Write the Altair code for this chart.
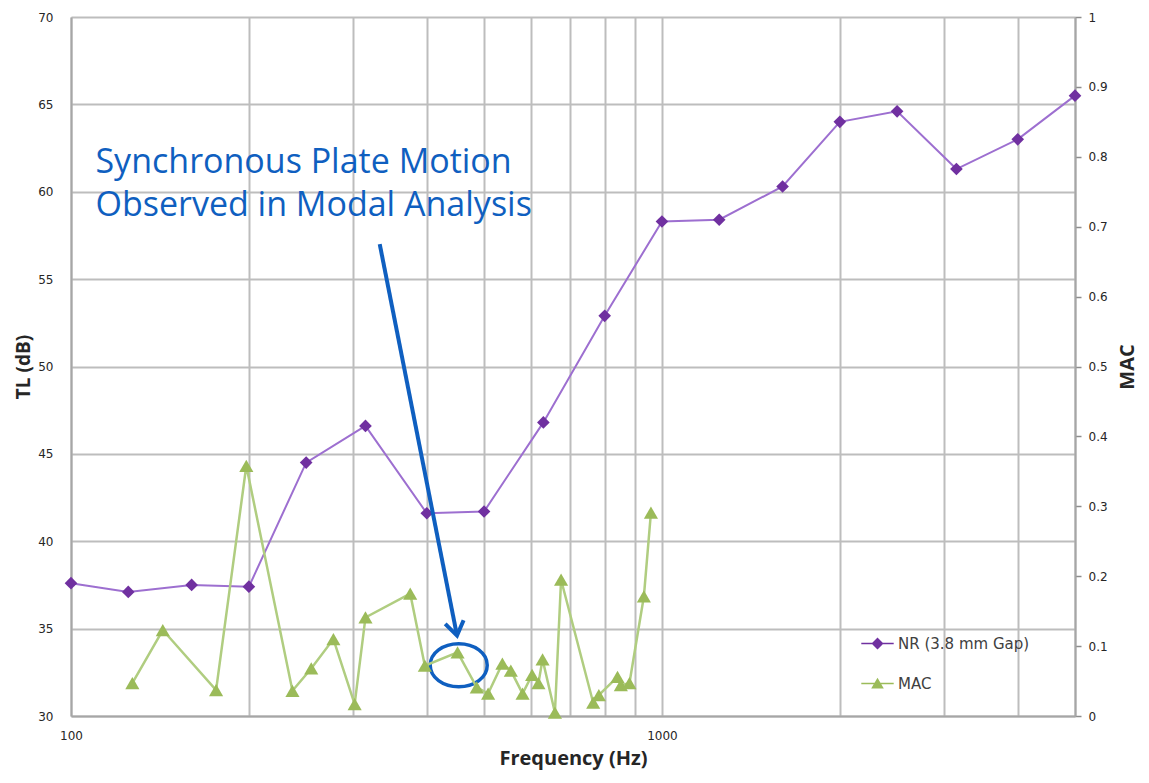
import altair as alt
import pandas as pd

# ---- data ----
nr_freq = [100, 125, 160, 200, 250, 315, 400, 500, 630, 800, 1000, 1250, 1600, 2000, 2500, 3150, 4000, 5000]
nr_tl = [37.6, 37.1, 37.5, 37.4, 44.5, 46.6, 41.6, 41.7, 46.8, 52.9, 58.3, 58.4, 60.3, 64.0, 64.6, 61.3, 63.0, 65.5]

mac_freq = [127, 143, 176, 198, 237, 255, 278, 302, 315, 375, 397, 451, 486, 508, 537, 555, 581, 603,
            618, 628, 659, 675, 765, 782, 841, 852, 881, 932, 958]
mac_val = [0.047, 0.123, 0.037, 0.358, 0.036, 0.068, 0.110, 0.017, 0.141, 0.175, 0.072, 0.091, 0.041,
           0.032, 0.075, 0.065, 0.032, 0.059, 0.047, 0.081, 0.005, 0.195, 0.019, 0.030, 0.056, 0.044,
           0.047, 0.171, 0.291]

series_names = ["NR (3.8 mm Gap)", "MAC"]
x_grid_values = [100, 200, 300, 400, 500, 600, 700, 800, 900, 1000, 2000, 3000, 4000, 5000]
tl_ticks = [30, 35, 40, 45, 50, 55, 60, 65, 70]
mac_ticks = [0, 0.1, 0.2, 0.3, 0.4, 0.5, 0.6, 0.7, 0.8, 0.9, 1]

annotation_text = "Synchronous Plate Motion\nObserved in Modal Analysis"
annotation_anchor = {"f": [110], "tl": [61.1]}
arrow_points = {"f": [333], "tl": [57.0], "f2": [450], "tl2": [34.6]}
circle_center = {"f": [453], "tl": [32.9]}

# ---- styles ----
PURPLE = "#7030A0"
PURPLE_LINE = "#9d6fd0"
GREEN = "#9BBB59"
GREEN_LINE = "#b0cd80"
BLUE = "#0f5fc0"
GRID = "#bdbdbd"
AXIS = "#a6a6a6"
TXT = "#262626"
TITLE_FONT = "Open Sans"
LABEL_FONT = "DejaVu Sans"

diamond_line_path = ("M -2.7,-0.13 L 2.7,-0.13 L 2.7,0.13 L -2.7,0.13 Z "
                     "M 0,-1 L 1,0 L 0,1 L -1,0 Z")
triangle_line_path = ("M -2.7,-0.13 L 2.7,-0.13 L 2.7,0.13 L -2.7,0.13 Z "
                      "M 0,-0.95 L 1.05,0.85 L -1.05,0.85 Z")
chevron_path = "M -0.75,-1.1 L 0,0 L 0.75,-1.1"
ellipse_path = ("M -1,0 C -1,-0.431 -0.552,-0.755 0,-0.755 C 0.552,-0.755 1,-0.431 1,0 "
                "C 1,0.431 0.552,0.755 0,0.755 C -0.552,0.755 -1,0.431 -1,0 Z")

x_enc = alt.X(
    "f:Q",
    scale=alt.Scale(type="log", domain=[100, 5000], nice=False),
    axis=alt.Axis(
        values=x_grid_values,
        labelExpr="(datum.value == 100 || datum.value == 1000) ? format(datum.value, 'd') : ''",
        grid=True, gridColor=GRID, gridWidth=2,
        domain=True, domainColor=AXIS, domainWidth=2,
        ticks=False, labelFlush=False, labelOverlap=False,
        labelFont=LABEL_FONT, labelFontSize=12, labelColor=TXT, labelPadding=14,
        title="Frequency (Hz)", titleFont=TITLE_FONT, titleFontSize=20, titleFontWeight="bold",
        titleColor=TXT, titleY=48, titleBaseline="alphabetic",
    ),
)

y_tl = alt.Y(
    "tl:Q",
    scale=alt.Scale(domain=[30, 70], nice=False, zero=False),
    axis=alt.Axis(
        values=tl_ticks, grid=True, gridColor=GRID, gridWidth=2,
        domain=True, domainColor=AXIS, domainWidth=2, ticks=False,
        labelFont=LABEL_FONT, labelFontSize=12, labelColor=TXT, labelPadding=18,
        title="TL (dB)", titleFont=TITLE_FONT, titleFontSize=19, titleFontWeight="bold",
        titleColor=TXT, titleX=-48, titleBaseline="middle",
    ),
)

y_mac = alt.Y(
    "mac:Q",
    scale=alt.Scale(domain=[0, 1], nice=False),
    axis=alt.Axis(
        orient="right", values=mac_ticks, grid=False, format="~g",
        domain=True, domainColor=AXIS, domainWidth=2,
        ticks=True, tickSize=6, tickColor="#8c8c8c", tickWidth=1.5,
        labelFont=LABEL_FONT, labelFontSize=12, labelColor=TXT, labelPadding=7,
        title="MAC", titleFont=TITLE_FONT, titleFontSize=20, titleFontWeight="bold",
        titleColor=TXT, titleAngle=270, titleX=52, titleBaseline="middle",
    ),
)

nr_df = pd.DataFrame({"f": nr_freq, "tl": nr_tl})
mac_df = pd.DataFrame({"f": mac_freq, "mac": mac_val})

nr_line = alt.Chart(nr_df).mark_line(color=PURPLE_LINE, strokeWidth=2).encode(x=x_enc, y=y_tl)
nr_pts = alt.Chart(nr_df).mark_point(shape="diamond", filled=True, size=160, color=PURPLE,
                                      opacity=1).encode(x=x_enc, y=y_tl)

text = alt.Chart(pd.DataFrame({**annotation_anchor, "label": [annotation_text]})).mark_text(
    align="left", baseline="alphabetic", font=TITLE_FONT, fontSize=34, color=BLUE,
    lineBreak="\n", lineHeight=43,
).encode(x=x_enc, y=y_tl, text="label:N")

arrow = alt.Chart(pd.DataFrame(arrow_points)).mark_rule(color=BLUE, strokeWidth=4).encode(
    x=x_enc, y=y_tl, x2="f2:Q", y2="tl2:Q")
arrow_head = alt.Chart(pd.DataFrame({"f": arrow_points["f2"], "tl": arrow_points["tl2"]})).mark_point(
    shape=chevron_path, filled=False, size=625, angle=349, strokeWidth=4, color=BLUE, opacity=1,
    strokeJoin="miter",
).encode(x=x_enc, y=y_tl)
ellipse = alt.Chart(pd.DataFrame(circle_center)).mark_point(
    shape=ellipse_path, filled=False, size=3250, strokeWidth=3.5, color=BLUE, opacity=1,
).encode(x=x_enc, y=y_tl)

group_tl = alt.layer(nr_line, nr_pts, arrow, arrow_head, ellipse, text)

mac_line = alt.Chart(mac_df).mark_line(color=GREEN_LINE, strokeWidth=2.5).encode(x=x_enc, y=y_mac)
mac_pts = alt.Chart(mac_df).mark_point(shape="triangle-up", filled=True, size=200, color=GREEN,
                                        opacity=1).encode(x=x_enc, y=y_mac)

legend_props = dict(orient="none", legendX=799, legendY=619, title=None,
                    labelFont=LABEL_FONT, labelFontSize=15, labelColor="#404040",
                    rowPadding=24, symbolSize=144, labelOffset=13, padding=0)

legend_layer = alt.Chart(pd.DataFrame({"series": series_names})).transform_filter("false").mark_point(
    filled=True, opacity=1, size=144,
).encode(
    color=alt.Color("series:N", scale=alt.Scale(domain=series_names, range=[PURPLE, GREEN]),
                    legend=alt.Legend(**legend_props)),
    shape=alt.Shape("series:N", scale=alt.Scale(domain=series_names,
                                                range=[diamond_line_path, triangle_line_path]),
                    legend=alt.Legend(**legend_props)),
)

group_mac = alt.layer(mac_line, mac_pts, legend_layer)

chart = alt.layer(group_tl, group_mac).resolve_scale(y="independent").properties(
    width=1004, height=699,
    autosize=alt.AutoSizeParams(type="none"),
    padding={"left": 63, "top": 9, "right": 66, "bottom": 58},
    background="white",
).configure_view(stroke=None)

chart.save("out.html", embed_options={"renderer": "svg", "actions": False})
